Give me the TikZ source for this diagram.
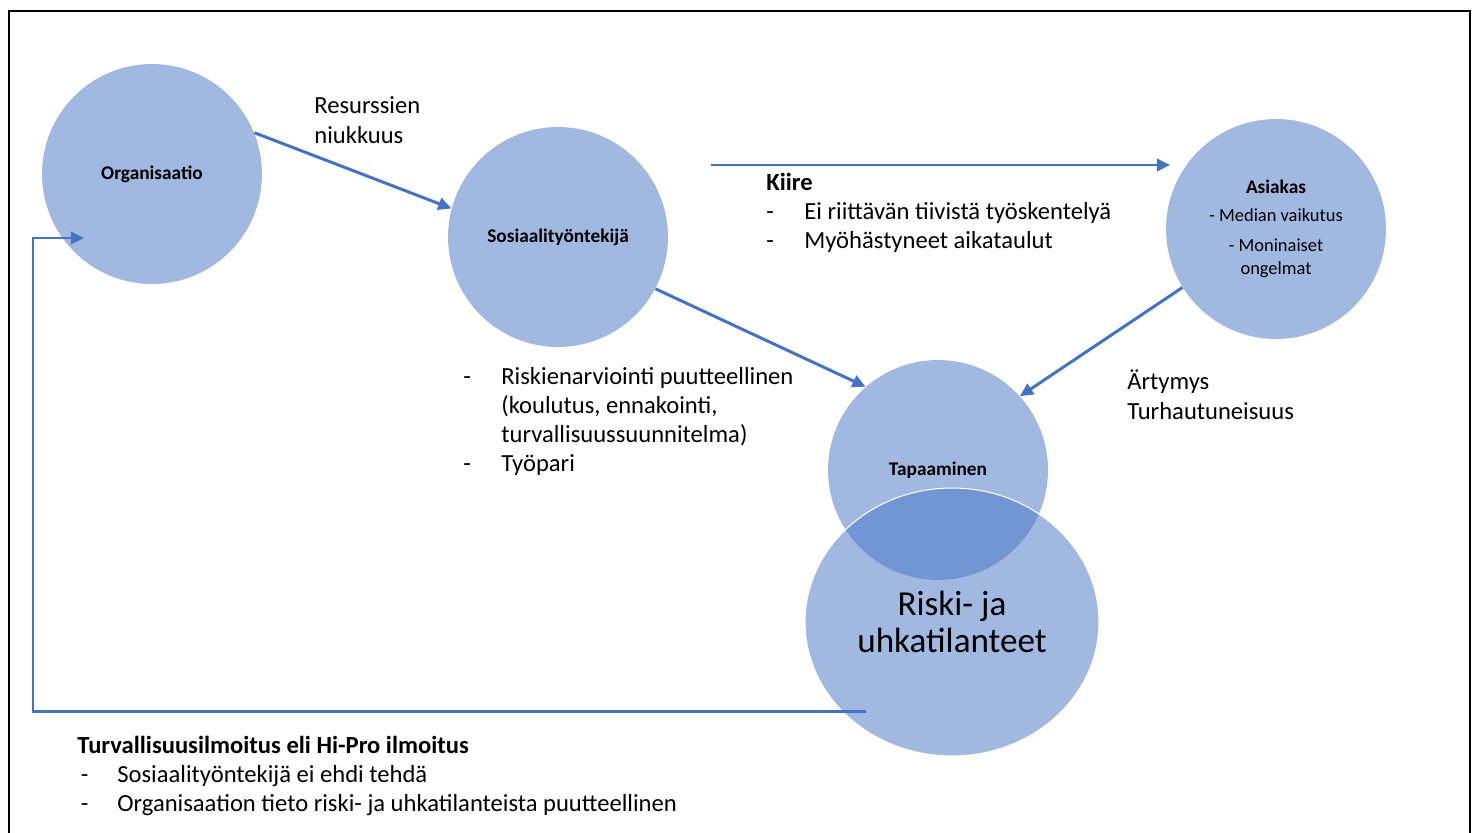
\documentclass[tikz,border=0pt]{standalone}
\usepackage{fontspec}
\setmainfont{Carlito}
\usetikzlibrary{positioning, arrows.meta, calc, shapes.geometric}
\definecolor{accent}{HTML}{4472C4}
\newcommand{\itemfont}{\mdseries\fontsize{10.5}{12}\selectfont}

\begin{document}
\begin{tikzpicture}[
  x=0.02cm, y=-0.02cm,
  bubble/.style={circle, fill=accent, fill opacity=0.5, text opacity=1, minimum size=4.4cm,
    inner sep=0pt, align=center, font=\fontsize{11}{13}\selectfont\bfseries},
  riskbubble/.style={ellipse, fill=accent, fill opacity=0.5, text opacity=1, draw=white,
    line width=0.6pt, minimum width=5.88cm, minimum height=5.36cm, inner sep=0pt,
    align=center, font=\fontsize{20}{21}\selectfont},
  flow/.style={-{Triangle[length=7.5pt,width=7pt]}, line width=1.7pt, draw=accent},
  note/.style={inner sep=0pt, anchor=base west, align=left, font=\fontsize{14}{16.6}\selectfont}
]
\useasboundingbox (0,0) rectangle (1476,832);
\clip (0,0) rectangle (1476,832);

% frame
\draw[line width=1.1pt] (9,11) rectangle (1470,860);

% actors
\node[bubble] (org) at (152,174) {Organisaatio};
\node[bubble] (soc) at (558,237) {Sosiaalityöntekijä};
\node[bubble] (asi) at (1276,229)
  {Asiakas\\[3pt]{\itemfont - Median vaikutus}\\[4pt]
   {\itemfont - Moninaiset}\\{\itemfont ongelmat}};
\node[bubble] (tap) at (938,470) {Tapaaminen};
\node[riskbubble] (risk) at (952,622) {Riski- ja\\uhkatilanteet};

% connectors
\draw[flow] (org.22) -- (soc.165);
\draw[flow] ($(soc.center)+(153,-72)$) -- ($(asi.center)+(-106,-64)$);
\draw[flow] (soc.-28) -- (tap.131);
\draw[flow] (asi.212) -- (tap.42);
\draw[flow] ($(risk.center)+(-86,89)$) -| ($(org.center)+(-119,64)$) -- ($(org.center)+(-68,64)$);

% labels
\node[note] (scarce) at (314,143) {Resurssien\\niukkuus};
\node[note] (kiire) at (766,190) {\begin{tabular}[t]{@{}p{0.76cm}@{}l@{}}
  \multicolumn{2}{@{}l@{}}{\bfseries Kiire}\\
  - & Ei riittävän tiivistä työskentelyä\\
  - & Myöhästyneet aikataulut
\end{tabular}};
\node[note] (riskinfo) at (463,384) {\begin{tabular}[t]{@{}p{0.76cm}@{}l@{}}
  - & Riskienarviointi puutteellinen\\
    & (koulutus, ennakointi,\\
    & turvallisuussuunnitelma)\\
  - & Työpari
\end{tabular}};
\node[note] (irrit) at (1127,419) {Ärtymys\\Turhautuneisuus};
\node[note] (report) at (77,753) {\begin{tabular}[t]{@{}p{0.8cm}@{}l@{}}
  \multicolumn{2}{@{}l@{}}{\bfseries Turvallisuusilmoitus eli Hi-Pro ilmoitus}\\
  \hspace{2pt}- & Sosiaalityöntekijä ei ehdi tehdä\\
  \hspace{2pt}- & Organisaation tieto riski- ja uhkatilanteista puutteellinen
\end{tabular}};

\end{tikzpicture}
\end{document}
